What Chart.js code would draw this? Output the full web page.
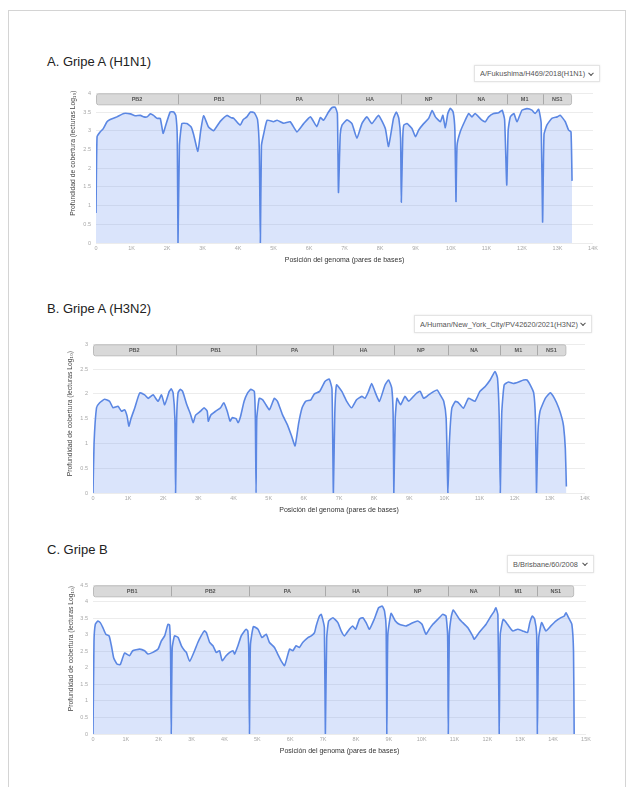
<!DOCTYPE html>
<html><head><meta charset="utf-8">
<script src="https://cdn.jsdelivr.net/npm/chart.js@4.4.0/dist/chart.umd.min.js"></script>
<style>
html,body{margin:0;padding:0;background:#fff;width:633px;height:787px;overflow:hidden;font-family:"Liberation Sans",Arial,sans-serif;}
#frame{position:absolute;left:8px;top:10px;width:618px;height:800px;border:1px solid #d4d4d4;box-sizing:border-box;}
.title{position:absolute;font-size:13px;color:#222;white-space:nowrap;}
.dd{position:absolute;border:1px solid #e4e4e4;box-shadow:0 0 2px rgba(0,0,0,0.10);background:#fff;box-sizing:border-box;}
.dd .t{position:absolute;left:5px;right:13px;top:0;bottom:0;overflow:hidden;white-space:nowrap;font-size:7.4px;color:#555;display:flex;align-items:center;}
.dd .c{position:absolute;right:6px;top:50%;width:3px;height:3px;border-right:1px solid #555;border-bottom:1px solid #555;transform:translateY(-70%) rotate(45deg);}
canvas{position:absolute;}
</style></head>
<body>
<div id="frame"></div>
<div class="title" style="left:47px;top:54px;">A. Gripe A (H1N1)</div>
<div class="dd" style="left:474px;top:65px;width:126px;height:17px;"><div class="t">A/Fukushima/H469/2018(H1N1)</div><div class="c"></div></div>
<canvas id="cA"></canvas>
<div class="title" style="left:47px;top:301px;">B. Gripe A (H3N2)</div>
<div class="dd" style="left:414px;top:315px;width:178px;height:18px;"><div class="t">A/Human/New_York_City/PV42620/2021(H3N2)</div><div class="c"></div></div>
<canvas id="cB"></canvas>
<div class="title" style="left:47px;top:542px;">C. Gripe B</div>
<div class="dd" style="left:507px;top:555px;width:87px;height:18px;"><div class="t">B/Brisbane/60/2008</div><div class="c"></div></div>
<canvas id="cC"></canvas>
<script>
// ---------- Panel A: Gripe A (H1N1) ----------
const posA = [0,30,120,200,310,400,590,780,970,1100,1250,1350,1440,1530,1620,1720,1810,1890,1950,2090,2190,2250,2290,2310,
2350,2420,2560,2680,2750,2870,2950,3030,3170,3310,3500,3690,3800,3880,4060,4150,4250,4350,4460,4550,4600,4630,
4660,4720,4820,5000,5100,5290,5470,5660,5850,6040,6220,6320,6410,6550,6650,6740,6800,6830,
6880,6930,7070,7210,7350,7490,7630,7770,7960,8150,8240,8380,8460,8530,8580,8600,
8640,8670,8760,8900,9000,9090,9230,9370,9470,9560,9700,9770,9840,9910,9980,10060,10110,10140,
10170,10260,10400,10500,10590,10680,10870,10970,11060,11200,11340,11440,11510,11570,
11610,11670,11770,11860,12000,12140,12280,12370,12470,12540,12580,
12620,12700,12840,12990,13080,13220,13310,13380,13410];
const depthA = [0.80,2.84,2.97,3.05,3.24,3.30,3.37,3.46,3.45,3.40,3.41,3.37,3.37,3.45,3.41,3.33,3.33,2.93,3.10,3.50,3.50,3.40,2.80,0,
2.60,3.19,3.19,3.10,2.90,2.45,3.00,3.40,3.10,3.00,3.25,3.41,3.35,3.33,3.15,3.30,3.37,3.50,3.48,3.30,2.50,0,
2.60,2.90,3.28,3.24,3.28,3.20,3.24,2.97,3.19,3.37,3.11,3.35,3.28,3.50,3.62,3.63,3.45,1.35,
2.90,3.15,3.29,3.19,2.80,3.19,3.37,3.19,3.41,3.06,2.58,3.33,3.50,3.33,2.80,1.09,
2.80,3.15,3.19,3.06,2.84,3.02,3.19,3.33,3.54,3.37,3.24,3.41,3.08,3.46,3.60,3.50,3.00,1.11,
2.60,2.97,3.28,3.46,3.37,3.46,3.28,3.24,3.37,3.46,3.48,3.55,3.30,1.55,
3.00,3.37,3.46,3.24,3.55,3.59,3.55,3.46,3.57,3.20,0.56,
2.90,3.15,3.33,3.37,3.41,3.24,3.02,2.97,1.66];
const segNamesA = ['PB2','PB1','PA','HA','NP','NA','M1','NS1'];
const segStartsA = [0,2310,4630,6830,8600,10140,11570,12580];
const segEndA = 13410;
const xTicksA = ['0','1K','2K','3K','4K','5K','6K','7K','8K','9K','10K','11K','12K','13K','14K'];
const yTicksA = ['0','0.5','1','1.5','2','2.5','3','3.5','4'];

// ---------- Panel B: Gripe A (H3N2) ----------
const posB = [0,30,100,190,330,470,570,710,810,900,970,1020,1080,1190,1330,1470,1570,1710,1850,1950,2040,2170,2230,2280,2330,2350,
2380,2420,2480,2550,2670,2770,2850,2920,3060,3160,3250,3280,3350,3490,3630,3720,3820,3900,3960,4070,4130,4200,4300,4400,4490,4590,4620,4640,
4660,4730,4830,4920,5020,5160,5250,5390,5530,5650,5750,5850,5950,6050,6200,6300,6450,6600,6720,6800,6840,
6880,6930,7080,7220,7360,7500,7650,7740,7840,7930,8020,8150,8310,8410,8500,8540,8560,
8600,8650,8750,8880,8980,9120,9220,9310,9410,9550,9700,9790,9880,9980,10050,10100,
10140,10210,10310,10400,10540,10680,10780,10870,11010,11160,11300,11440,11510,11560,11590,
11630,11700,11820,11960,12110,12250,12350,12440,12540,12590,12620,
12660,12720,12870,13010,13130,13250,13340,13390,13440,13470];
const depthB = [0,1.00,1.72,1.82,1.89,1.85,1.72,1.75,1.65,1.68,1.55,1.35,1.50,1.72,2.02,1.98,1.91,1.98,1.85,1.98,1.78,2.05,2.10,2.02,1.50,0,
1.50,2.02,2.09,2.05,1.78,1.60,1.42,1.57,1.65,1.72,1.65,1.45,1.57,1.65,1.72,1.82,1.65,1.45,1.52,1.50,1.42,1.55,1.85,2.02,2.09,2.05,1.50,0,
1.50,1.91,1.88,1.78,1.68,1.91,1.85,1.58,1.38,1.15,0.95,1.40,1.72,1.85,1.88,2.00,2.05,2.25,2.30,2.10,0,
1.60,2.18,2.05,1.85,1.72,1.88,1.95,1.91,2.05,2.21,2.05,1.85,2.18,2.28,2.12,1.60,0,
1.50,1.91,1.78,1.95,1.85,1.95,2.02,2.05,1.91,1.98,2.05,2.08,1.98,1.85,1.50,0,
1.00,1.71,1.85,1.82,1.71,1.91,1.88,1.85,2.05,2.15,2.28,2.45,2.32,1.50,0,
1.60,2.18,2.24,2.21,2.24,2.28,2.28,2.18,2.02,1.50,0,
1.20,1.65,1.91,2.02,1.91,1.72,1.52,1.35,0.90,0.13];
const segNamesB = ['PB2','PB1','PA','HA','NP','NA','M1','NS1'];
const segStartsB = [0,2350,4640,6840,8560,10100,11590,12620];
const segEndB = 13470;
const xTicksB = ['0','1K','2K','3K','4K','5K','6K','7K','8K','9K','10K','11K','12K','13K','14K'];
const yTicksB = ['0','0.5','1','1.5','2','2.5','3'];

// ---------- Panel C: Gripe B ----------
const posC = [0,30,70,150,220,300,390,490,560,630,730,830,960,1110,1210,1420,1570,1670,1820,1980,2080,2180,2280,2330,2360,2380,
2410,2480,2590,2690,2790,2840,2940,3090,3190,3290,3390,3450,3550,3650,3750,3850,3930,4050,4160,4260,4310,4410,4510,4610,4660,4710,4740,4760,
4790,4880,5020,5140,5270,5370,5520,5620,5720,5830,5980,6080,6180,6280,6380,6540,6640,6740,6790,6890,6940,6990,7040,7070,
7110,7170,7300,7450,7550,7650,7800,7900,7990,8110,8210,8310,8410,8560,8690,8800,8870,8920,8940,
8970,9070,9200,9320,9520,9730,9880,10010,10130,10230,10340,10490,10640,10740,10790,10810,
10840,10900,10960,11150,11250,11400,11550,11600,11750,11960,12110,12210,12260,12320,12360,
12390,12480,12610,12770,12920,13070,13220,13290,13370,13440,13500,13520,
13560,13650,13780,13930,14090,14240,14340,14390,14470,14570,14620,14640];
const depthC = [0,2.80,3.32,3.42,3.37,3.22,3.02,2.97,2.67,2.30,2.12,2.10,2.45,2.37,2.52,2.57,2.52,2.42,2.47,2.57,2.82,2.97,3.32,3.30,2.50,0,
2.60,2.97,2.92,2.67,2.52,2.47,2.20,2.52,2.77,2.97,3.12,3.07,2.77,2.67,2.47,2.52,2.22,2.37,2.47,2.52,2.42,2.67,2.97,3.12,3.17,3.12,2.50,0,
2.70,3.25,3.17,2.92,3.02,2.77,2.62,2.42,2.22,2.07,2.57,2.52,2.67,2.62,2.77,2.92,2.97,3.07,3.27,3.57,3.62,3.47,3.22,0,
2.90,3.42,3.52,3.37,3.12,2.97,3.17,3.27,3.17,3.48,3.52,3.37,3.17,3.48,3.82,3.87,3.72,3.20,0,
3.00,3.65,3.42,3.32,3.27,3.37,3.42,3.32,3.02,3.17,3.32,3.47,3.62,3.57,3.00,0,
3.00,3.55,3.75,3.47,3.37,3.22,2.97,2.87,3.07,3.32,3.57,3.72,3.82,3.60,0,
3.00,3.47,3.32,3.12,3.17,3.12,3.07,3.37,3.57,3.47,3.00,0,
2.90,3.37,3.12,3.27,3.42,3.52,3.57,3.67,3.52,3.32,2.50,0];
const segNamesC = ['PB1','PB2','PA','HA','NP','NA','M1','NS1'];
const segStartsC = [0,2380,4760,7070,8940,10810,12360,13520];
const segEndC = 14640;
const xTicksC = ['0','1K','2K','3K','4K','5K','6K','7K','8K','9K','10K','11K','12K','13K','14K','15K'];
const yTicksC = ['0','0.5','1','1.5','2','2.5','3','3.5','4','4.5'];

const yTitle = 'Profundidad de cobertura (lecturas Log\u2081\u2080)';
const xTitle = 'Posición del genoma (pares de bases)';

// header (segment) strip drawn with the chart's x scale
const segHeader = {
  id: 'segHeader',
  afterDraw(chart, args, o) {
    const {ctx, chartArea, scales} = chart;
    const x = scales.x;
    const top = chartArea.top, h = 11;
    const bounds = o.starts.concat([o.end]).map(v => x.getPixelForValue(v));
    const x0 = bounds[0], x1 = bounds[bounds.length - 1];
    ctx.save();
    ctx.beginPath();
    ctx.roundRect(x0 + 0.5, top + 0.5, x1 - x0 - 1, h, 2);
    ctx.fillStyle = '#d9d9d9';
    ctx.fill();
    ctx.strokeStyle = '#bcbcbc';
    ctx.lineWidth = 1;
    ctx.stroke();
    ctx.strokeStyle = '#a9a9a9';
    for (let i = 1; i < bounds.length - 1; i++) {
      const bx = Math.round(bounds[i]) + 0.5;
      ctx.beginPath(); ctx.moveTo(bx, top + 1); ctx.lineTo(bx, top + h); ctx.stroke();
    }
    ctx.fillStyle = '#555';
    ctx.font = 'bold 5.5px "Liberation Sans", Arial, sans-serif';
    ctx.textAlign = 'center'; ctx.textBaseline = 'middle';
    for (let i = 0; i < o.names.length; i++) {
      ctx.fillText(o.names[i], (bounds[i] + bounds[i + 1]) / 2, top + h / 2 + 1);
    }
    // rotated y-axis title
    ctx.save();
    ctx.translate(o.titleX, (chartArea.top + chartArea.bottom) / 2 + o.titleDy);
    ctx.rotate(-Math.PI / 2);
    ctx.fillStyle = '#444';
    ctx.font = '6.8px "Liberation Sans", Arial, sans-serif';
    ctx.textAlign = 'center'; ctx.textBaseline = 'middle';
    ctx.fillText(o.yTitle, 0, 0);
    ctx.restore();
    ctx.restore();
  }
};

function makeChart(id, pos, depth, yMax, xMax, xTicks, yTicks, segNames, segStarts, segEnd, g) {
  const cv = document.getElementById(id);
  const yw = 45, xh = 22, padR = 12, padT = 6;
  const left = g.left - yw, top = g.top - padT;
  const W = Math.round(g.right - left + padR), H = Math.round(g.bottom - top + xh);
  cv.width = W; cv.height = H;
  cv.style.left = left + 'px'; cv.style.top = top + 'px';
  cv.style.width = W + 'px'; cv.style.height = H + 'px';
  const data = pos.map((p, i) => ({x: p, y: depth[i]}));
  return new Chart(cv, {
    type: 'line',
    data: {datasets: [{
      data,
      borderColor: '#5b87e3',
      backgroundColor: 'rgba(112,152,240,0.26)',
      borderWidth: 1.6,
      fill: 'origin',
      tension: 0.15,
      pointRadius: 0,
    }]},
    options: {
      responsive: false, animation: false,
      devicePixelRatio: 1,
      layout: {padding: {left: 0, top: padT, right: padR, bottom: 0}},
      plugins: {legend: {display: false}, tooltip: {enabled: false},
        segHeader: {names: segNames, starts: segStarts, end: segEnd,
          yTitle: yTitle, titleX: g.ytx - left, titleDy: g.ydy}},
      scales: {
        x: {type: 'linear', min: 0, max: xMax,
          grid: {display: false, drawTicks: false}, border: {display: false},
          afterFit: s => { s.height = xh; },
          ticks: {stepSize: 1000, autoSkip: false, maxRotation: 0, padding: 2,
            color: '#a8a8a8', font: {size: 5.5, family: '"Liberation Sans", Arial'},
            callback: (v, i) => xTicks[i]},
          title: {display: true, text: xTitle, color: '#333',
            font: {size: 7, family: '"Liberation Sans", Arial'}, padding: {top: 0, bottom: 1}}
        },
        y: {type: 'linear', min: 0, max: yMax,
          grid: {color: '#ececec', drawTicks: false}, border: {display: false},
          afterFit: s => { s.width = yw; },
          ticks: {stepSize: 0.5, padding: 5, color: '#a8a8a8',
            font: {size: 5.5, family: '"Liberation Sans", Arial'},
            callback: (v, i) => yTicks[i]},
          title: {display: false}
        }
      }
    },
    plugins: [segHeader]
  });
}

makeChart('cA', posA, depthA, 4, 14000, xTicksA, yTicksA, segNamesA, segStartsA, segEndA,
  {left: 95.7, right: 592.7, top: 91, bottom: 243, ytx: 73, ydy: -15});
makeChart('cB', posB, depthB, 3, 14000, xTicksB, yTicksB, segNamesB, segStartsB, segEndB,
  {left: 93.3, right: 585, top: 342, bottom: 493, ytx: 70.5, ydy: -5});
makeChart('cC', posC, depthC, 4.5, 15000, xTicksC, yTicksC, segNamesC, segStartsC, segEndC,
  {left: 93.3, right: 586.7, top: 583, bottom: 734, ytx: 71, ydy: -11});
</script>
</body></html>
